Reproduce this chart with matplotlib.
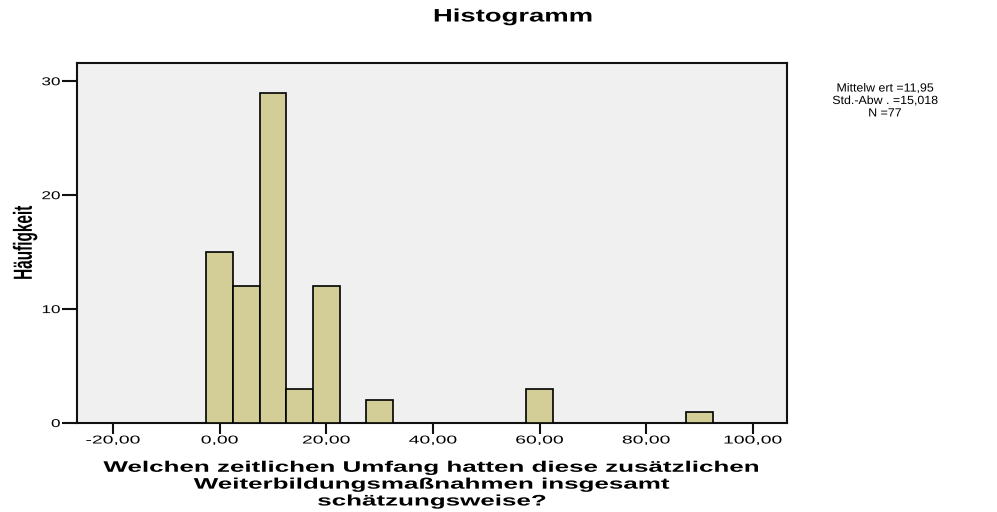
import matplotlib
matplotlib.use("Agg")
import matplotlib.pyplot as plt
from matplotlib.patheffects import AbstractPathEffect
from matplotlib.transforms import Affine2D

plt.rcParams['font.family'] = ['Liberation Sans', 'DejaVu Sans']

# Histogram bins (centre of each 5-unit bin) and frequencies
bin_centers = [0, 5, 10, 15, 20, 30, 60, 90]
counts = [15, 12, 29, 3, 12, 2, 3, 1]
bin_width = 5

x_ticks = [-20, 0, 20, 40, 60, 80, 100]
x_tick_labels = ["-20,00", "0,00", "20,00", "40,00", "60,00", "80,00", "100,00"]
y_ticks = [0, 10, 20, 30]

title = "Histogramm"
y_label = "Häufigkeit"
x_label = ("Welchen zeitlichen Umfang hatten diese zusätzlichen\n"
           "Weiterbildungsmaßnahmen insgesamt\nschätzungsweise?")
stats_text = "Mittelw ert =11,95\nStd.-Abw . =15,018\nN =77"


class Stretch(AbstractPathEffect):
    """Draw glyphs scaled anisotropically about a point of their own bbox."""

    def __init__(self, sx=1.0, sy=1.0, anchor="center"):
        super().__init__()
        self.sx, self.sy, self.anchor = sx, sy, anchor

    def draw_path(self, renderer, gc, tpath, affine, rgbFace=None):
        bb = tpath.get_extents(affine)
        if self.anchor == "right":
            px = bb.x1
        elif self.anchor == "left":
            px = bb.x0
        else:
            px = 0.5 * (bb.x0 + bb.x1)
        py = 0.5 * (bb.y0 + bb.y1)
        stretch = (Affine2D().translate(-px, -py)
                   .scale(self.sx, self.sy).translate(px, py))
        renderer.draw_path(gc, tpath, affine + stretch, rgbFace)


fig = plt.figure(figsize=(9.97, 5.12), dpi=100)
ax = fig.add_axes([77 / 997, 1 - 423 / 512, (787 - 77) / 997, (423 - 63) / 512])
ax.set_facecolor("#f0f0f0")

ax.bar(bin_centers, counts, width=bin_width, align="center",
       color="#d3ce98", edgecolor="black", linewidth=1.2, zorder=3)

ax.set_xlim(-26.75, 106.4)
ax.set_ylim(0, 31.6)
ax.set_xticks(x_ticks)
ax.set_xticklabels(x_tick_labels)
ax.set_yticks(y_ticks)

for side in ["left", "bottom", "top", "right"]:
    ax.spines[side].set_linewidth(1.5)
    ax.spines[side].set_color("#111111")

ax.tick_params(axis="x", direction="out", length=8, width=1.5,
               labelsize=8.2, pad=1, color="#111111")
ax.tick_params(axis="y", direction="out", length=11, width=1.5,
               labelsize=8.2, pad=1, color="#111111")

for lab in ax.get_xticklabels():
    lab.set_path_effects([Stretch(sx=1.7)])
for lab in ax.get_yticklabels():
    lab.set_path_effects([Stretch(sx=1.5, anchor="right")])

ax.set_ylabel(y_label, fontsize=13, fontweight="bold", labelpad=10,
              path_effects=[Stretch(sx=1.45, sy=0.85)])
ax.set_xlabel(x_label, fontsize=11, fontweight="bold", linespacing=1.26,
              labelpad=11, path_effects=[Stretch(sx=1.7)])

fig.text(513 / 997, 1 - 17 / 512, title, ha="center", va="center",
         fontsize=13, fontweight="bold", path_effects=[Stretch(sx=1.52)])

fig.text(885 / 997, 1 - 101 / 512, stats_text, ha="center", va="center",
         fontsize=8.5, linespacing=1.05, path_effects=[Stretch(sx=1.05)])

fig.savefig("out.png", dpi=100)
